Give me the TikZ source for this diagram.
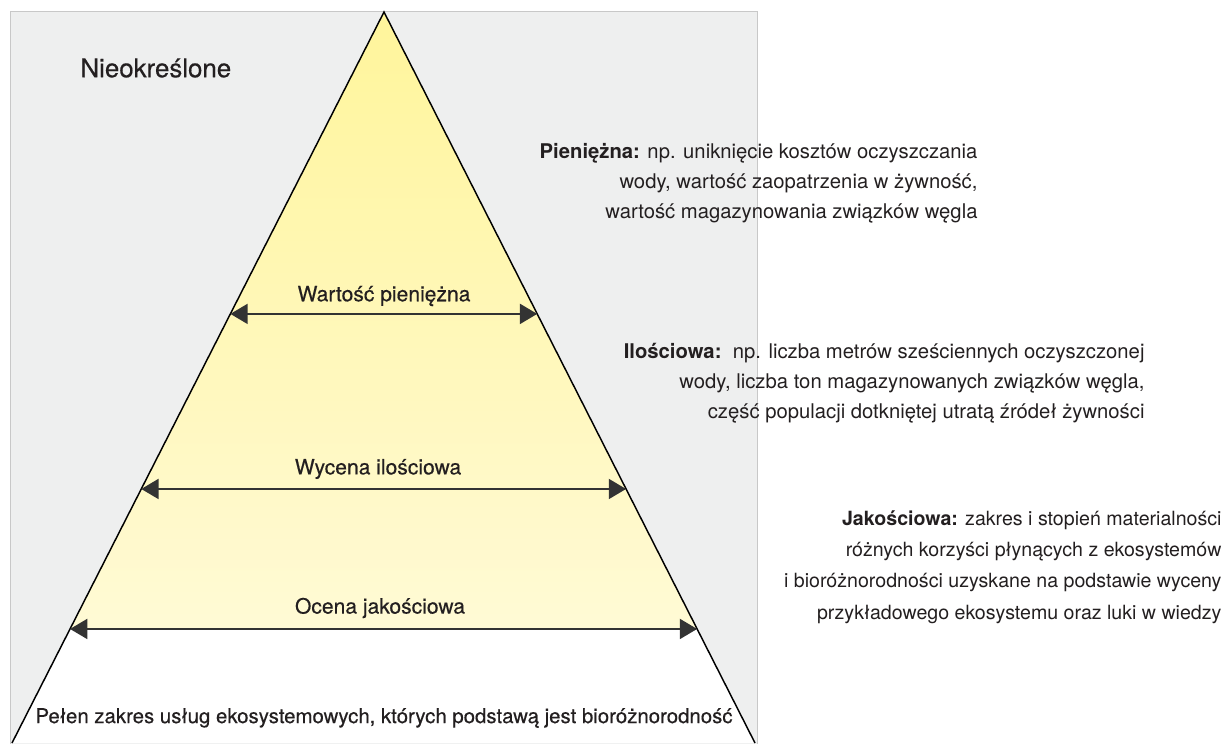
\documentclass[tikz,border=0pt]{standalone}
\usepackage{fontspec}
\setmainfont{TeX Gyre Heros}
\usetikzlibrary{arrows.meta,calc}
\definecolor{boxgray}{RGB}{238,239,239}
\definecolor{boxline}{RGB}{200,200,200}
\definecolor{txtdark}{RGB}{35,31,32}
\definecolor{arrdark}{RGB}{51,51,51}
\definecolor{ytop}{RGB}{255,245,155}
\definecolor{ybot}{RGB}{255,250,213}
\tikzset{every picture/.style={line width=0.75pt}}

\begin{document}
\begin{tikzpicture}[x=0.75pt,y=0.75pt,yscale=-1,xscale=1,
  lvl/.style={inner sep=0.75pt, text=txtdark, font=\fontsize{15.8}{19}\selectfont\addfontfeature{FakeBold=0.4}},
  note/.style={inner sep=0pt, text=txtdark, align=right, anchor=north east, font=\fontsize{15.2}{22.5}\selectfont},
  span/.style={draw=arrdark, line width=1.5, {Triangle[length=13pt,width=15pt]}-{Triangle[length=13pt,width=15pt]}}]
\useasboundingbox (0,0) rectangle (1228,743);

%Shape: Rectangle [id:background box]
\draw [draw=boxline, fill=boxgray] (10,11) rectangle (757,750) ;

%Triangle corners
\coordinate (apex) at (384,12);
\coordinate (bl) at (12,743);
\coordinate (br) at (755,743);
%Arrow ends on the edges
\coordinate (pl) at ($(apex)!0.413!(bl)$);
\coordinate (pr) at ($(apex)!0.413!(br)$);
\coordinate (il) at ($(apex)!0.6525!(bl)$);
\coordinate (ir) at ($(apex)!0.6525!(br)$);
\coordinate (ql) at ($(apex)!0.844!(bl)$);
\coordinate (qr) at ($(apex)!0.844!(br)$);

%Shape: Triangle [id:white base]
\fill [white] (apex) -- (bl) -- (br) -- cycle ;
%Shape: Triangle [id:yellow part]
\shade [top color=ytop, bottom color=ybot] (apex) -- (ql) -- (qr) -- cycle ;
%Straight Lines [id:edges]
\draw [line width=1.1]    (bl) -- (apex) -- (br) ;

%Straight Lines [id:arrows]
\draw [span]    (pl) -- (pr) ;
\draw [span]    (il) -- (ir) ;
\draw [span]    (ql) -- (qr) ;

% Text Node
\node [lvl, anchor=west, font=\fontsize{19.4}{22}\selectfont\addfontfeature{FakeBold=0.4}] (undef) at (79,68) {Nieokreślone};
% Text Node
\node [lvl] (monlab) at (384,296) {Wartość pieniężna};
% Text Node
\node [lvl] (quantlab) at (378,469) {Wycena ilościowa};
% Text Node
\node [lvl] (quallab) at (380,608) {Ocena jakościowa};
% Text Node
\node [lvl, font=\fontsize{15.3}{18}\selectfont\addfontfeature{FakeBold=0.4}] (full) at (384,718) {Pełen zakres usług ekosystemowych, których podstawą jest bioróżnorodność};

% Text Node
\node [note] (monnote) at (978,143) {\textbf{Pieniężna:} np. uniknięcie kosztów oczyszczania\\wody, wartość zaopatrzenia w żywność,\\wartość magazynowania związków węgla};
% Text Node
\node [note] (quantnote) at (1145,343) {\textbf{Ilościowa:}\ \ np. liczba metrów sześciennych oczyszczonej\\wody, liczba ton magazynowanych związków węgla,\\część populacji dotkniętej utratą źródeł żywności};
% Text Node
\node [note, font=\fontsize{14.7}{23.5}\selectfont] (qualnote) at (1222,510) {\textbf{Jakościowa:} zakres i stopień materialności\\różnych korzyści płynących z ekosystemów\\i bioróżnorodności uzyskane na podstawie wyceny\\przykładowego ekosystemu oraz luki w wiedzy};

\end{tikzpicture}
\end{document}
